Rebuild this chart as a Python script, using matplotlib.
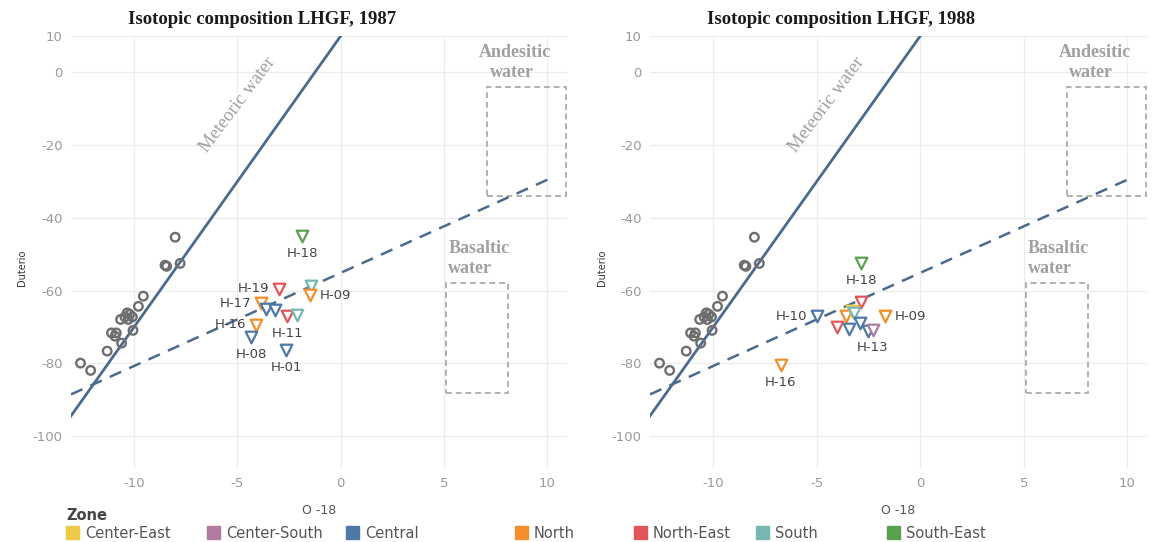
import matplotlib
matplotlib.use("Agg")
import matplotlib.pyplot as plt
from matplotlib.patches import Rectangle

plt.rcParams["axes.unicode_minus"] = False

# zone colours (Tableau 10)
zones = ["Center-East", "Center-South", "Central", "North", "North-East", "South", "South-East"]
zone_colors = ["#EDC948", "#B07AA1", "#4E79A7", "#F28E2B", "#E15759", "#76B7B2", "#59A14F"]

# background samples (O-18, Deuterium), same set in both years
bg_o18 = [-12.59, -12.10, -11.30, -11.09, -10.86, -10.92, -10.60, -10.65, -10.44, -10.33,
          -10.21, -10.08, -10.28, -10.05, -9.79, -9.55, -8.50, -8.42, -8.01, -7.77]
bg_dd = [-79.9, -81.9, -76.6, -71.6, -71.6, -72.5, -74.4, -67.9, -67.2, -66.1,
         -66.5, -67.2, -67.9, -70.9, -64.3, -61.5, -53.0, -53.3, -45.3, -52.5]

# wells 1987
w87_zone = ["South-East", "North-East", "South", "North", "North", "Central", "Central",
            "North-East", "South", "North", "Central", "Central"]
w87_o18 = [-1.86, -3.00, -1.42, -1.50, -3.85, -3.60, -3.16, -2.59, -2.10, -4.10, -4.33, -2.64]
w87_dd = [-45.0, -59.4, -58.8, -61.3, -63.4, -64.9, -65.2, -67.0, -66.8, -69.3, -72.7, -76.4]
w87_label = ["H-18", "H-19", "", "H-09", "H-17", "", "", "H-11", "", "H-16", "H-08", "H-01"]
w87_pos = ["below", "left", "", "right", "left", "", "", "below", "", "left", "below", "below"]

# wells 1988
w88_zone = ["South-East", "North-East", "Central", "North", "Center-East", "South", "North",
            "North-East", "Central", "Central", "Central", "Center-South", "North"]
w88_o18 = [-2.84, -2.85, -5.00, -3.60, -3.30, -3.20, -1.70, -4.04, -3.45, -2.90, -2.50, -2.30, -6.73]
w88_dd = [-52.4, -63.1, -67.0, -67.0, -65.6, -66.2, -67.0, -70.0, -70.4, -69.0, -71.2, -70.9, -80.5]
w88_label = ["H-18", "", "H-10", "", "", "", "H-09", "", "", "", "", "H-13", "H-16"]
w88_pos = ["below", "", "left", "", "", "", "right", "", "", "", "", "below", "below"]

# reference lines: meteoric water (dD = 8*O18 + 10) and mixing trend
meteoric_x = [-13.5, 2.0]
meteoric_y = [8 * v + 10 for v in meteoric_x]
mixing_x = [-13.05, 10.0]
mixing_y = [-88.5, -29.5]

# water boxes (x0, x1, y0, y1)
andesitic_box = (7.1, 10.9, -34.0, -4.0)
basaltic_box = (5.1, 8.1, -88.0, -58.0)

line_color = "#4C6A8E"
grey_txt = "#A0A0A0"
serif = ["Liberation Serif", "DejaVu Serif"]

fig = plt.figure(figsize=(11.59, 5.42), dpi=100)
ax87 = fig.add_axes([71 / 1159, 73 / 542, 496 / 1159, 433 / 542])
ax88 = fig.add_axes([650 / 1159, 73 / 542, 497 / 1159, 433 / 542])


def draw_panel(ax, zone, o18, dd, labels, pos, title, title_x, met_txt_x):
    ax.set_xlim(-13.05, 10.95)
    ax.set_ylim(-109, 10)
    ax.set_xticks([-10, -5, 0, 5, 10])
    ax.set_yticks([-100, -80, -60, -40, -20, 0, 10])
    ax.grid(True, color="#ECECEC", linewidth=0.9)
    ax.set_axisbelow(True)
    for s in ax.spines.values():
        s.set_visible(False)
    ax.tick_params(length=0, colors="#9A9A9A", labelsize=9.5, pad=6)

    ax.plot(meteoric_x, meteoric_y, color=line_color, lw=2.0, zorder=2)
    ax.plot(mixing_x, mixing_y, color=line_color, lw=1.8, ls=(0, (5, 3.5)), zorder=2)

    for (x0, x1, y0, y1) in [andesitic_box, basaltic_box]:
        ax.add_patch(Rectangle((x0, y0), x1 - x0, y1 - y0, fill=False, ec="#B0B0B0",
                               lw=1.4, ls=(0, (3, 2)), clip_on=False, zorder=1))

    ax.text(6.7, 5.5, "Andesitic", family=serif, weight="bold", color=grey_txt,
            fontsize=13, ha="left", va="center", clip_on=False)
    ax.text(7.2, 0.0, "water", family=serif, weight="bold", color=grey_txt,
            fontsize=13, ha="left", va="center")
    ax.text(5.2, -48.5, "Basaltic", family=serif, weight="bold", color=grey_txt,
            fontsize=13, ha="left", va="center")
    ax.text(5.2, -54.0, "water", family=serif, weight="bold", color=grey_txt,
            fontsize=13, ha="left", va="center")
    ax.text(met_txt_x, -9.0, "Meteoric water", family=serif, color=grey_txt,
            fontsize=13.5, rotation=53, ha="center", va="center")

    ax.scatter(bg_o18, bg_dd, s=38, facecolors="none", edgecolors="#6E6E6E",
               linewidths=1.7, zorder=3)

    for z, x, y, lab, p in zip(zone, o18, dd, labels, pos):
        c = zone_colors[zones.index(z)]
        ax.scatter([x], [y], marker="v", s=70, facecolors="white", edgecolors=c,
                   linewidths=1.6, zorder=4)
        if not lab:
            continue
        if p == "below":
            ax.annotate(lab, (x, y), xytext=(0, -8), textcoords="offset points",
                        ha="center", va="top", fontsize=9.5, color="#444444")
        elif p == "left":
            ax.annotate(lab, (x, y), xytext=(-7, 0), textcoords="offset points",
                        ha="right", va="center", fontsize=9.5, color="#444444")
        else:
            ax.annotate(lab, (x, y), xytext=(7, 0), textcoords="offset points",
                        ha="left", va="center", fontsize=9.5, color="#444444")

    fig.text(title_x, 1 - 19 / 542, title, family=serif, weight="bold", fontsize=13.5,
             ha="center", va="center", color="#1A1A1A")
    ax.set_xlabel("O -18", fontsize=9, color="#555555", labelpad=10)


draw_panel(ax87, w87_zone, w87_o18, w87_dd, w87_label, w87_pos,
           "Isotopic composition LHGF, 1987", 262 / 1159, -5.0)
draw_panel(ax88, w88_zone, w88_o18, w88_dd, w88_label, w88_pos,
           "Isotopic composition LHGF, 1988", 841 / 1159, -4.5)

fig.text(22 / 1159, 1 - 268 / 542, "Duterio", rotation=90, fontsize=7, color="#333333",
         ha="center", va="center")
fig.text(602 / 1159, 1 - 268 / 542, "Duterio", rotation=90, fontsize=7, color="#333333",
         ha="center", va="center")

# legend along the bottom
fig.text(66 / 1159, 1 - 515 / 542, "Zone", fontsize=10.5, weight="bold", color="#444444",
         ha="left", va="center")
legend_x = [66, 207, 346, 515, 634, 756, 887]
for z, c, lx in zip(zones, zone_colors, legend_x):
    fig.patches.append(Rectangle((lx / 1159, 1 - 539 / 542), 13 / 1159, 13 / 542,
                                 transform=fig.transFigure, color=c))
    fig.text((lx + 19) / 1159, 1 - 533 / 542, z, fontsize=10.5, color="#555555",
             ha="left", va="center")

fig.savefig("out.png", dpi=100)
